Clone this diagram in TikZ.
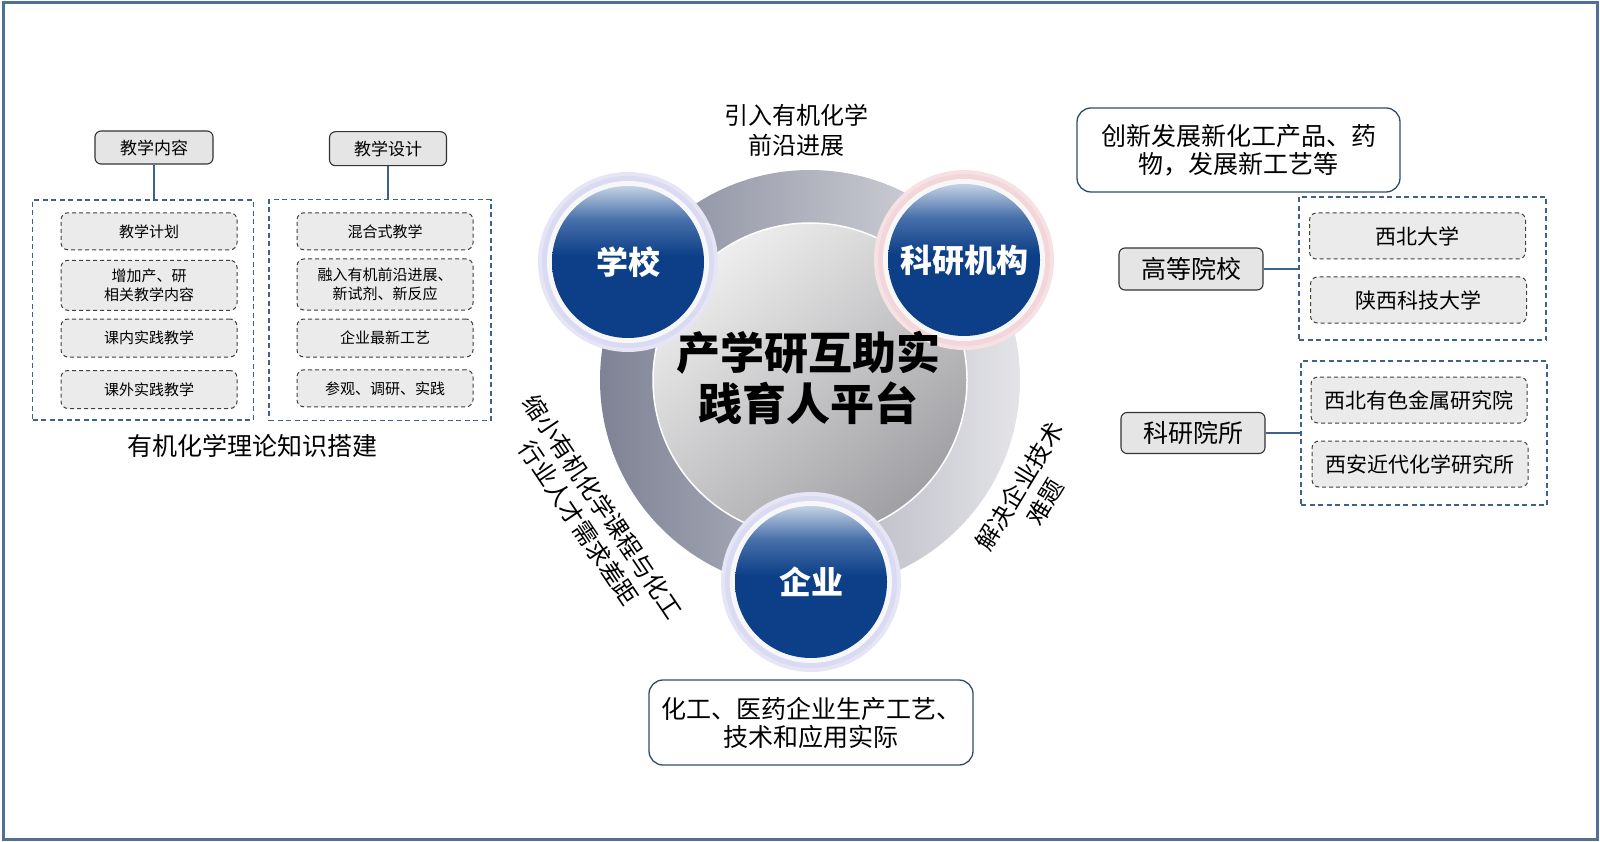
\documentclass[tikz,border=0pt]{standalone}
\usepackage{fontspec}
\setmainfont{Noto Sans CJK SC}
\definecolor{frameblue}{RGB}{80,112,152}
\definecolor{dashblue}{RGB}{62,98,140}
\definecolor{noteline}{RGB}{48,74,110}
\definecolor{cellfill}{RGB}{235,235,235}
\definecolor{hdfill}{RGB}{229,229,229}
\definecolor{ballblue}{RGB}{12,63,135}
\definecolor{ballmid}{RGB}{72,112,170}
\definecolor{ballhi}{RGB}{196,210,228}
\definecolor{ringdark}{RGB}{126,130,148}
\definecolor{ringlight}{RGB}{228,228,232}
\definecolor{coredark}{RGB}{160,160,164}
\definecolor{corelight}{RGB}{238,238,238}
\definecolor{halob}{RGB}{218,218,242}
\definecolor{halor}{RGB}{242,214,218}
\pgfdeclareverticalshading{ballgloss}{100bp}{color(0bp)=(ballblue); color(52bp)=(ballblue); color(64bp)=(ballmid); color(75bp)=(ballhi); color(100bp)=(ballhi)}

\begin{document}
\begin{tikzpicture}[
    x=1pt, y=-1pt,
    frame/.style={draw=frameblue, line width=3pt},
    grp/.style={rectangle, draw=dashblue, line width=1.4pt, dash pattern=on 5pt off 3.5pt, inner sep=0pt},
    link/.style={draw=dashblue, line width=1.4pt},
    hd/.style={rectangle, rounded corners=6pt, draw=black!80, line width=1.1pt, fill=hdfill, inner sep=0pt},
    cell/.style={rectangle, rounded corners=7pt, draw=black!75, line width=1pt, dash pattern=on 4pt off 3pt, fill=cellfill, align=center, inner sep=0pt},
    note/.style={rectangle, rounded corners=14pt, draw=noteline, line width=1.3pt, fill=white, align=center, inner sep=0pt, font=\fontsize{25}{28}\selectfont},
    side/.style={align=center, font=\fontsize{25}{28}\selectfont},
    balltxt/.style={text=white, font=\fontsize{32}{36}\selectfont\bfseries},
  ]
  \useasboundingbox (0,0) rectangle (1600,842);
  \draw[frame] (3,3) rectangle (1597,839);

  %% ---------------- left: teaching content / design ----------------
  \node[grp, minimum width=220.6, minimum height=220] (grpcontent) at (143,310) {};
  \node[grp, minimum width=221.7, minimum height=220.7] (grpdesign) at (380,310) {};
  \node[hd, minimum width=118, minimum height=33, font=\fontsize{17}{20}\selectfont] (hdcontent) at (154,147.5) {教学内容};
  \node[hd, minimum width=117, minimum height=34, font=\fontsize{17}{20}\selectfont] (hddesign) at (388,148.7) {教学设计};
  \draw[link] (hdcontent.south) -- (hdcontent.south |- grpcontent.north);
  \draw[link] (hddesign.south) -- (hddesign.south |- grpdesign.north);
  \foreach \y/\h/\t [count=\i] in {231.3/37/教学计划, 285.3/50/{增加产、研\\相关教学内容}, 338/38/课内实践教学, 389.5/38/课外实践教学}
    \node[cell, minimum width=176, minimum height=\h, font=\fontsize{15}{19}\selectfont] (content\i) at (149,\y) {\t};
  \foreach \y/\h/\t [count=\i] in {231.3/37/混合式教学, 284.5/51/{融入有机前沿进展、\\新试剂、新反应}, 338/38/企业最新工艺, 388.3/37/参观、调研、实践}
    \node[cell, minimum width=176, minimum height=\h, font=\fontsize{15}{19}\selectfont] (design\i) at (385,\y) {\t};
  \node[side] (theory) at (252,446) {有机化学理论知识搭建};

  %% ---------------- centre: ring and three partners ----------------
  \shade[left color=ringdark, right color=ringlight] (810,380) circle (210);
  \shade[top color=corelight, bottom color=coredark, shading angle=40] (810,380) circle (157);
  \draw[white, line width=1.5pt] (810,380) circle (157);
  \foreach \n/\x/\y/\c/\t in {school/628/262/halob/学校, lab/964/260/halor/科研机构, firm/811/582/halob/企业} {
    \fill[\c!70] (\x,\y) circle (90);
    \fill[\c] (\x,\y) circle (86);
    \fill[white!94!gray] (\x,\y) circle (81);
    \shade[shading=ballgloss] (\x,\y) circle (76);
    \node[balltxt] (\n) at (\x,\y) {\t};
  }
  \node[font=\fontsize{44}{51}\selectfont\bfseries, align=center] (platform) at (808,378) {产学研互助实\\践育人平台};

  %% ---------------- labels round the ring ----------------
  \node[side, font=\fontsize{24}{30}\selectfont] (frontier) at (796,130) {引入有机化学\\前沿进展};
  \node[side, rotate=-56, font=\fontsize{24}{29}\selectfont] (gap) at (591,515) {缩小有机化学课程与化工\\行业人才需求差距};
  \node[side, rotate=58.7, font=\fontsize{24}{30}\selectfont] (tech) at (1032,494) {解决企业技术\\难题};
  \node[note, minimum width=324, minimum height=85] (practice) at (811,722.5) {化工、医药企业生产工艺、\\技术和应用实际};

  %% ---------------- right: universities and institutes ----------------
  \node[note, minimum width=323, minimum height=84] (innov) at (1238.5,150) {创新发展新化工产品、药\\物，发展新工艺等};
  \node[grp, minimum width=247, minimum height=143] (grpuni) at (1422.5,268.5) {};
  \node[grp, minimum width=246, minimum height=144] (grpinst) at (1424,433) {};
  \node[hd, minimum width=144, minimum height=42, font=\fontsize{25}{28}\selectfont] (hduni) at (1191,269) {高等院校};
  \node[hd, minimum width=144, minimum height=41, font=\fontsize{25}{28}\selectfont] (hdinst) at (1193,433) {科研院所};
  \draw[link] (hduni.east) -- (hduni.east -| grpuni.west);
  \draw[link] (hdinst.east) -- (hdinst.east -| grpinst.west);
  \foreach \x/\y/\t [count=\i] in {1417.5/236/西北大学, 1418.5/300/陕西科技大学, 1419/400/西北有色金属研究院, 1420/464/西安近代化学研究所}
    \node[cell, minimum width=216, minimum height=46, font=\fontsize{21}{24}\selectfont] (member\i) at (\x,\y) {\t};

\end{tikzpicture}
\end{document}
